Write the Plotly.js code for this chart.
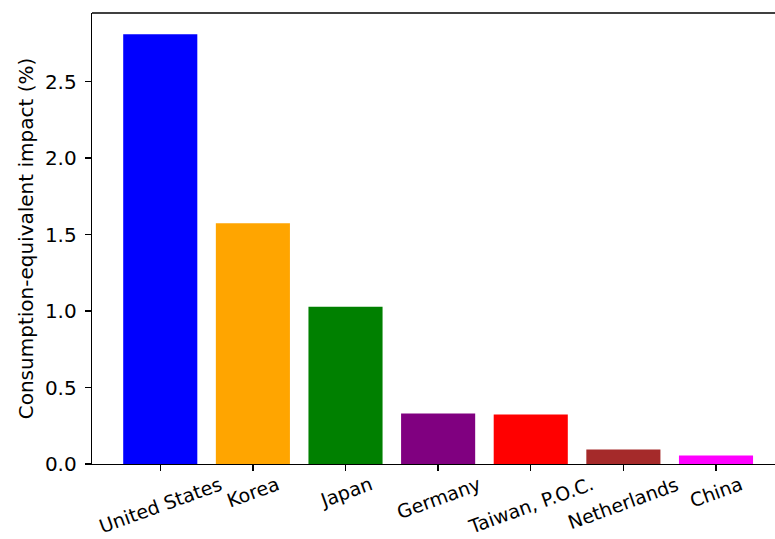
<!DOCTYPE html>
<html>
<head>
<meta charset="utf-8">
<script src="https://cdn.plot.ly/plotly-3.0.1.min.js"></script>
<style>
  html, body { margin: 0; padding: 0; background: #fff; }
  #chart { width: 775px; height: 539px; }
</style>
</head>
<body>
<div id="chart"></div>
<script>
// Economies and their consumption-equivalent impact (%)
const economies = ["United States", "Korea", "Japan", "Germany", "Taiwan, P.O.C.", "Netherlands", "China"];
const impact = [2.81, 1.574, 1.028, 0.330, 0.323, 0.094, 0.055];
const barColors = ["blue", "orange", "green", "purple", "red", "brown", "magenta"];
const yTicks = [0, 0.5, 1.0, 1.5, 2.0, 2.5];
const yTickText = ["0.0", "0.5", "1.0", "1.5", "2.0", "2.5"];
const yTitle = "Consumption-equivalent impact (%)";

const font = "DejaVu Sans, sans-serif";
const fontSize = 20;
const xLabelSize = 19;
const xIdx = economies.map((_, i) => i);

const trace = {
  type: "bar",
  x: xIdx,
  y: impact,
  width: 0.8,
  marker: { color: barColors, line: { width: 0 } },
  hoverinfo: "skip"
};

// Rotated category labels, centred under each tick
const labelAnnotations = economies.map((name, i) => ({
  x: i, xref: "x",
  y: -0.016, yref: "paper",
  text: name,
  textangle: -20,
  showarrow: false,
  xanchor: "center",
  yanchor: "top",
  borderpad: 0,
  font: { family: font, size: xLabelSize, color: "#000" }
}));

const layout = {
  width: 775,
  height: 539,
  margin: { l: 92, r: 0, t: 13, b: 75 },
  paper_bgcolor: "#fff",
  plot_bgcolor: "#fff",
  showlegend: false,
  font: { family: font, size: fontSize, color: "#000" },
  xaxis: {
    range: [-0.737, 6.637],
    tickvals: xIdx,
    showticklabels: false,
    ticks: "outside",
    ticklen: 6,
    tickwidth: 1.3,
    tickcolor: "#000",
    showline: true,
    linecolor: "#000",
    linewidth: 1.3,
    showgrid: false,
    zeroline: false,
    fixedrange: true
  },
  yaxis: {
    range: [0, 2.949],
    tickvals: yTicks,
    ticktext: yTickText,
    ticks: "outside",
    ticklen: 6,
    tickwidth: 1.3,
    tickcolor: "#000",
    ticklabelstandoff: 4,
    tickfont: { family: font, size: fontSize, color: "#000" },
    showline: true,
    linecolor: "#000",
    linewidth: 1.3,
    showgrid: false,
    zeroline: false,
    title: { text: yTitle, font: { family: font, size: fontSize, color: "#000" }, standoff: 6 },
    fixedrange: true
  },
  shapes: [{
    type: "line", xref: "paper", yref: "paper",
    x0: 0, x1: 1, y0: 1, y1: 1,
    line: { color: "#000", width: 1.3 }
  }],
  annotations: labelAnnotations
};

Plotly.newPlot("chart", [trace], layout, { displayModeBar: false, staticPlot: true });
</script>
</body>
</html>
